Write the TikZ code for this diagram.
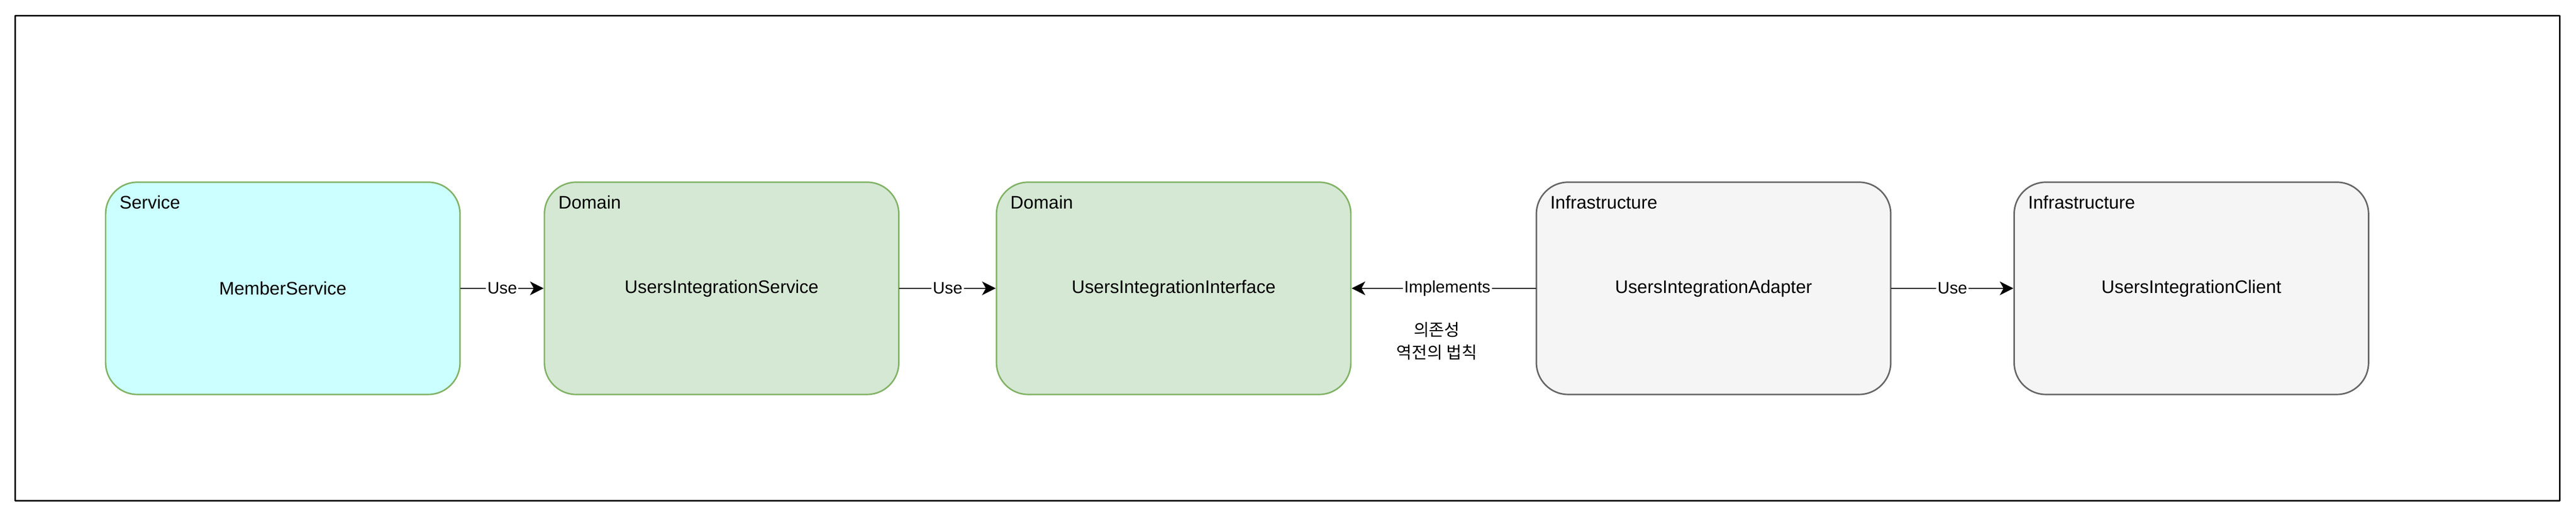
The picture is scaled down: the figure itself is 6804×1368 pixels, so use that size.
\documentclass[tikz,border=0pt]{standalone}
\usepackage{fontspec}
\setmainfont{Liberation Sans}
\newfontfamily\cjk{Noto Sans CJK KR}
\usetikzlibrary{arrows.meta}
\definecolor{ccffff}{rgb}{0.8,1,1}
\definecolor{ddeedd}{rgb}{0.835,0.91,0.831}
\definecolor{wwbbww}{rgb}{0.51,0.702,0.4}
\definecolor{eeeeee}{rgb}{0.961,0.961,0.961}
\definecolor{wwwwww}{rgb}{0.4,0.4,0.4}

\begin{document}
\begin{tikzpicture}[line cap=round,line join=round,>={Stealth[length=9pt,width=9pt,inset=2.5pt]},x=0.25pt,y=0.25pt,
  layer/.style={rounded corners=21pt,line width=1pt,minimum width=234pt,minimum height=140.25pt,inner sep=0pt,font=\fontsize{12}{14}\selectfont},
  domainbox/.style={layer,draw=wwbbww,fill=ddeedd},
  infrabox/.style={layer,draw=wwwwww,fill=eeeeee},
  tag/.style={anchor=base west,inner sep=0pt,font=\fontsize{12}{14}\selectfont},
  rel/.style={fill=white,inner sep=1pt,font=\fontsize{11}{13}\selectfont}]
\useasboundingbox (0,0) rectangle (6804,1368);
\draw [line width=1pt] (40,45) rectangle (6761,1327);
\node [layer,draw=wwbbww,fill=ccffff] (member) at (747,606) {MemberService};
\node [domainbox] (usvc) at (1906,606) {UsersIntegrationService};
\node [domainbox] (uif) at (3100,606) {UsersIntegrationInterface};
\node [infrabox] (uadp) at (4526,606) {UsersIntegrationAdapter};
\node [infrabox] (ucli) at (5788,606) {UsersIntegrationClient};
\node [tag] (memberT) at ([xshift=9.5pt,yshift=-18.25pt]member.north west) {Service};
\node [tag] (usvcT) at ([xshift=9.5pt,yshift=-18.25pt]usvc.north west) {Domain};
\node [tag] (uifT) at ([xshift=9.5pt,yshift=-18.25pt]uif.north west) {Domain};
\node [tag] (uadpT) at ([xshift=9.5pt,yshift=-18.25pt]uadp.north west) {Infrastructure};
\node [tag] (ucliT) at ([xshift=9.5pt,yshift=-18.25pt]ucli.north west) {Infrastructure};
\draw [->,line width=0.9pt] (member) -- node [rel] {Use} (usvc);
\draw [->,line width=0.9pt] (usvc) -- node [rel] {Use} (uif);
\draw [->,line width=0.9pt] (uadp) -- node [rel,pos=0.48] {Implements} (uif);
\draw [->,line width=0.9pt] (uadp) -- node [rel] {Use} (ucli);
\node [align=center,inner sep=0pt,font=\cjk\fontsize{11}{15}\selectfont] (dip) at (3795,466) {의존성\\역전의 법칙};
\end{tikzpicture}
\end{document}
